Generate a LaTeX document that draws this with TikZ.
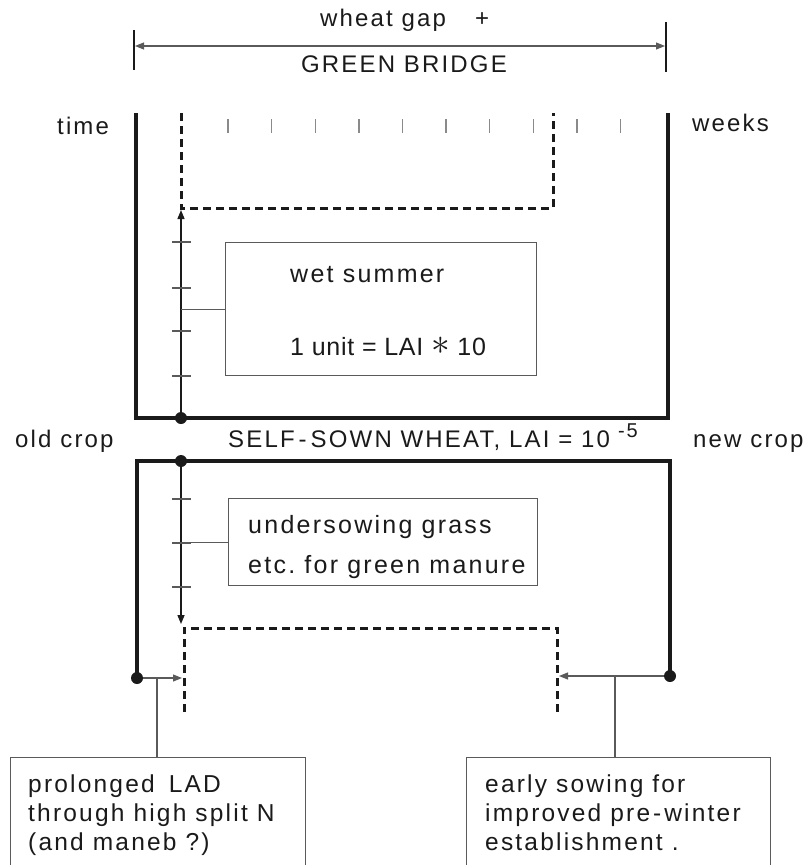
\documentclass[tikz,border=0pt]{standalone}
\usepackage{fontspec}
\setmainfont[LetterSpace=9]{Liberation Sans}
\usetikzlibrary{arrows.meta}
\definecolor{ink}{HTML}{1A1A1A}
\definecolor{fine}{HTML}{5A5A5A}
\definecolor{faint}{HTML}{8A8A8A}

\begin{document}
\begin{tikzpicture}[x=1pt,y=-1pt,
  lbl/.style={inner sep=0pt, anchor=base west, font=\fontsize{24}{28}\selectfont, text=ink},
  lblc/.style={lbl, anchor=base},
  boxtxt/.style={lbl, font=\fontsize{25}{29}\selectfont},
  big/.style={lbl, font=\fontsize{24.5}{29}\selectfont},
  frame/.style={draw=ink, line width=3.2pt},
  dashline/.style={draw=ink, line width=3pt, dash pattern=on 8pt off 5pt},
  fineline/.style={draw=fine, line width=1.1pt},
  axis/.style={draw=ink, line width=1.4pt},
  tickmark/.style={draw=faint, line width=1.4pt},
  axtick/.style={draw=fine, line width=1.2pt},
  textbox/.style={draw=fine, line width=1.2pt, rectangle, inner sep=0pt, anchor=north west},
  tip/.style={-{Triangle[length=9pt,width=7pt]}},
  dot/.style={circle, fill=ink, inner sep=0pt, minimum size=12pt}
]
\clip (0,0) rectangle (810,865);
\fill[white] (0,0) rectangle (810,865);

% ---- span of the wheat gap ----
\draw[ink, line width=2pt] (134,30) -- (134,70);
\draw[ink, line width=2pt] (666,22) -- (666,72);
\coordinate (gapL) at (135,46);
\coordinate (gapR) at (665,46);
\draw[fineline, {Triangle[length=9pt,width=7pt]}-{Triangle[length=9pt,width=7pt]}] (gapL) -- (gapR);
\node[lbl] (wheatgap) at (320,26) {wheat gap};
\node[lbl] (plus) at (475,26) {+};
\node[lblc] (green) at (404,72) {GREEN BRIDGE};

\node[lbl] (time) at (57,134) {time};
\node[lbl] (weeks) at (692,131) {weeks};

% ---- upper panel: wet summer ----
\draw[frame] (136,113) -- (136,418) -- (668,418) -- (668,113);
\foreach \i in {0,...,9}
  \draw[tickmark] ({228+43.6*\i},119) -- ++(0,14);
\draw[dashline] (181,113) -- (181,208) -- (553,208) -- (553,113);

\node[dot] (upbase) at (181,418) {};
\coordinate (uptop) at (181,210);
\draw[axis, tip] (upbase) -- (uptop);
\foreach \y in {242,288,331,376}
  \draw[axtick] (172,\y) -- (191,\y);

\node[textbox, minimum width=311pt, minimum height=133pt] (wet) at (225,242) {};
\draw[fineline] (wet.west) -- (wet.west -| upbase);
\node[boxtxt] (wettitle) at (290,282) {wet summer};
\node[boxtxt] (wetunit) at (290,355) {\addfontfeature{LetterSpace=3}1 unit = LAI \raisebox{1pt}{\scalebox{1.5}{$\ast$}} 10};

% ---- middle labels ----
\node[lbl] (old) at (15,447) {old crop};
\node[lbl] (self) at (228,447) {SELF\,-\,SOWN WHEAT, LAI = 10\kern8pt\raisebox{10pt}{\fontsize{20}{22}\selectfont -5}};
\node[lbl] (new) at (693,447) {new crop};

% ---- lower panel: undersowing ----
\draw[frame] (137,677) -- (137,461) -- (670,461) -- (670,677);
\node[dot] (lowtop) at (181,461) {};
\coordinate (lowend) at (181,624);
\draw[axis, tip] (lowtop) -- (lowend);
\foreach \y in {499,543,587}
  \draw[axtick] (172,\y) -- (191,\y);

\node[textbox, minimum width=309pt, minimum height=87pt] (under) at (228,498) {};
\draw[fineline] (under.west) -- (under.west -| lowtop);
\node[boxtxt] (under1) at (248,533) {undersowing grass};
\node[boxtxt] (under2) at (248,573) {etc.\ for green manure};

\draw[dashline] (184,712) -- (184,628) -- (557,628) -- (557,712);

\node[dot] (oldend) at (137,678) {};
\node[dot] (newstart) at (670,676) {};
\coordinate (oldhit) at (182,678);
\coordinate (newhit) at (559,676);
\draw[fineline, tip] (oldend) -- (oldhit);
\draw[fineline, tip] (newstart) -- (newhit);

% ---- bottom notes ----
\node[textbox, minimum width=295pt, minimum height=140pt] (lad) at (10,757) {};
\node[textbox, minimum width=304pt, minimum height=140pt] (sow) at (466,757) {};
\coordinate (ladlink) at (157,678);
\coordinate (sowlink) at (615,676);
\draw[fineline] (ladlink) -- (ladlink |- lad.north);
\draw[fineline] (sowlink) -- (sowlink |- sow.north);

\node[big] (lad1) at (28,792) {prolonged\hspace{14pt}LAD};
\node[big] (lad2) at (28,821) {through high split N};
\node[big] (lad3) at (28,850) {(and maneb ?)};
\node[big] (sow1) at (485,792) {early sowing for};
\node[big] (sow2) at (485,821) {improved pre\kern3pt-\kern3pt winter};
\node[big] (sow3) at (485,850) {establishment .};
\end{tikzpicture}
\end{document}
